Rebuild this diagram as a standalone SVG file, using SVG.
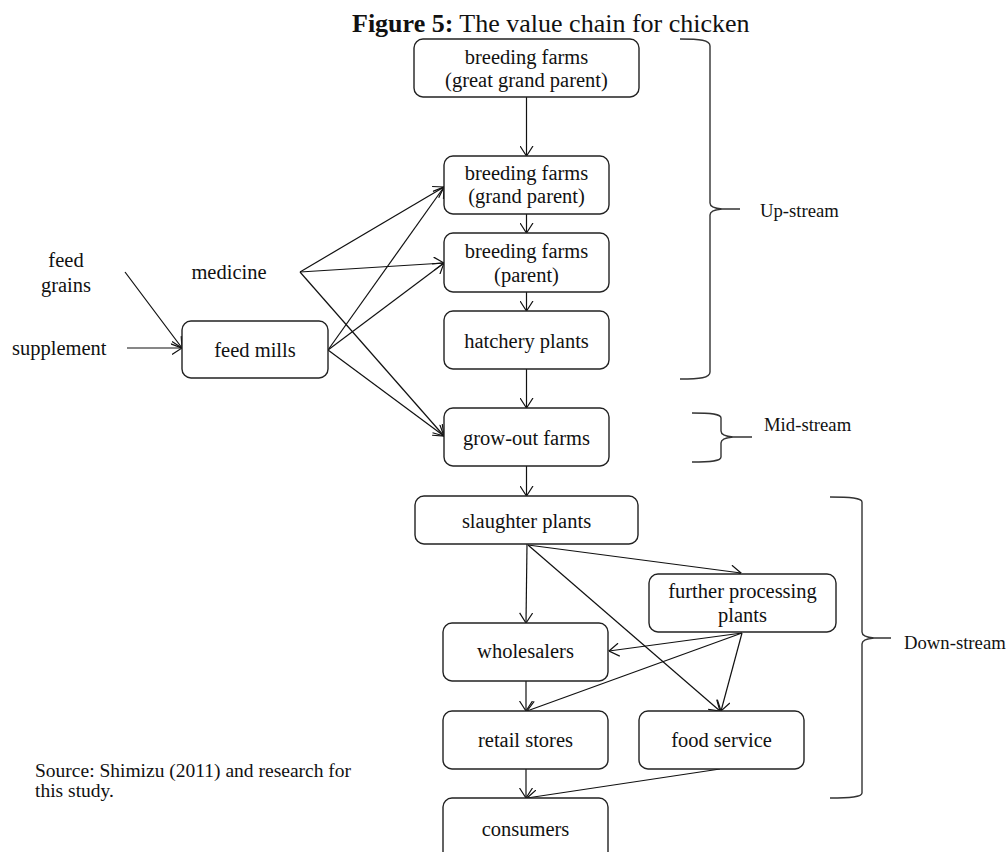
<svg xmlns="http://www.w3.org/2000/svg" width="1006" height="852" viewBox="0 0 1006 852">
<style>
text{font-family:"Liberation Serif","Times New Roman",serif;fill:#111}
.t{font-size:20.5px;text-anchor:middle}
.l{font-size:20.5px}
.s{font-size:19.5px}
.b{font-size:18.7px}
.box{fill:#fff;stroke:#222;stroke-width:1.4}
.c{stroke:#111;stroke-width:1.2;fill:none}
.br{stroke:#333;stroke-width:1.4;fill:none}
</style>
<defs>
<marker id="a" viewBox="0 0 11 14" refX="10.5" refY="7" markerWidth="11" markerHeight="14" markerUnits="userSpaceOnUse" orient="auto">
<path d="M0.5,0.5 L10.5,7 L0.5,13.5" fill="none" stroke="#111" stroke-width="1.2"/>
</marker>
</defs>
<rect width="1006" height="852" fill="#fff"/>
<text x="352" y="32" style="font-size:26px"><tspan font-weight="bold">Figure 5:</tspan> The value chain for chicken</text>

<g id="connectors">
<line class="c" x1="526.5" y1="97" x2="526.5" y2="156" marker-end="url(#a)"/>
<line class="c" x1="526.5" y1="214" x2="526.5" y2="233" marker-end="url(#a)"/>
<line class="c" x1="526.5" y1="292" x2="526.5" y2="311" marker-end="url(#a)"/>
<line class="c" x1="526.5" y1="369" x2="526.5" y2="408" marker-end="url(#a)"/>
<line class="c" x1="526.5" y1="466" x2="526.5" y2="496" marker-end="url(#a)"/>
<line class="c" x1="527" y1="544" x2="526" y2="623" marker-end="url(#a)"/>
<line class="c" x1="528" y1="545" x2="741" y2="573" marker-end="url(#a)"/>
<line class="c" x1="528" y1="545" x2="720" y2="711" marker-end="url(#a)"/>
<line class="c" x1="742" y1="633" x2="609" y2="651" marker-end="url(#a)"/>
<line class="c" x1="742" y1="633" x2="527" y2="711" marker-end="url(#a)"/>
<line class="c" x1="742" y1="633" x2="721" y2="711" marker-end="url(#a)"/>
<line class="c" x1="526" y1="681" x2="526" y2="711" marker-end="url(#a)"/>
<line class="c" x1="526" y1="769" x2="526" y2="798" marker-end="url(#a)"/>
<line class="c" x1="720" y1="769" x2="527" y2="798" marker-end="url(#a)"/>
<line class="c" x1="125" y1="272" x2="182" y2="348" marker-end="url(#a)"/>
<line class="c" x1="127" y1="348" x2="182" y2="348" marker-end="url(#a)"/>
<line class="c" x1="300" y1="272" x2="444" y2="187" marker-end="url(#a)"/>
<line class="c" x1="300" y1="272" x2="444" y2="263" marker-end="url(#a)"/>
<line class="c" x1="300" y1="272" x2="444" y2="436" marker-end="url(#a)"/>
<line class="c" x1="328" y1="350" x2="444" y2="187" marker-end="url(#a)"/>
<line class="c" x1="328" y1="350" x2="444" y2="263" marker-end="url(#a)"/>
<line class="c" x1="328" y1="350" x2="444" y2="436" marker-end="url(#a)"/>
</g>

<g id="ggp"><rect class="box" x="414" y="39" width="225" height="58" rx="9"/><text class="t" x="526.5" y="64">breeding farms</text><text class="t" x="526.5" y="87">(great grand parent)</text></g>
<g id="gp"><rect class="box" x="444" y="156" width="165" height="58" rx="9"/><text class="t" x="526.5" y="180">breeding farms</text><text class="t" x="526.5" y="203">(grand parent)</text></g>
<g id="parent"><rect class="box" x="444" y="233" width="165" height="59" rx="9"/><text class="t" x="526.5" y="258">breeding farms</text><text class="t" x="526.5" y="282">(parent)</text></g>
<g id="hatchery"><rect class="box" x="444" y="311" width="165" height="58" rx="9"/><text class="t" x="526.5" y="348">hatchery plants</text></g>
<g id="growout"><rect class="box" x="444" y="408" width="165" height="58" rx="9"/><text class="t" x="526.5" y="445">grow-out farms</text></g>
<g id="slaughter"><rect class="box" x="415" y="496" width="223" height="48" rx="9"/><text class="t" x="526.5" y="528">slaughter plants</text></g>
<g id="further"><rect class="box" x="649" y="574" width="187" height="58" rx="9"/><text class="t" x="742.5" y="598">further processing</text><text class="t" x="742.5" y="622">plants</text></g>
<g id="wholesalers"><rect class="box" x="443" y="623" width="165" height="58" rx="9"/><text class="t" x="525.5" y="658">wholesalers</text></g>
<g id="retail"><rect class="box" x="443" y="711" width="165" height="58" rx="9"/><text class="t" x="525.5" y="747">retail stores</text></g>
<g id="foodservice"><rect class="box" x="639" y="711" width="165" height="58" rx="9"/><text class="t" x="721.5" y="747">food service</text></g>
<g id="consumers"><rect class="box" x="443" y="798" width="165" height="70" rx="9"/><text class="t" x="525.5" y="836">consumers</text></g>
<g id="feedmills"><rect class="box" x="182" y="321" width="146" height="57" rx="9"/><text class="t" x="255" y="357">feed mills</text></g>

<g id="inputs">
<text class="t" x="66" y="267">feed</text>
<text class="t" x="66" y="292">grains</text>
<text class="t" x="229" y="279">medicine</text>
<text class="l" x="12" y="355">supplement</text>
</g>

<g id="braces">
<path class="br" d="M680,39 C700,39 710,40 710,46 L710,203 Q710,208 722,209 L740,209 M722,209 Q710,210 710,215 L710,372 C710,378 700,379 680,379"/>
<text class="b" x="760" y="217">Up-stream</text>
<path class="br" d="M692,413 C712,413 721,414 721,418 L721,431 Q721,436 733,437 L752,437 M733,437 Q721,438 721,443 L721,457 C721,461 712,462 692,462"/>
<text class="b" x="764" y="431">Mid-stream</text>
<path class="br" d="M830,497 C850,497 862,498 862,502 L862,632 Q862,637 874,638 L891,638 M874,638 Q862,639 862,644 L862,793 C862,797 850,798 830,798"/>
<text class="b" x="904" y="649">Down-stream</text>
</g>

<text class="s" x="35" y="777">Source: Shimizu (2011) and research for</text>
<text class="s" x="35" y="797">this study.</text>
</svg>
